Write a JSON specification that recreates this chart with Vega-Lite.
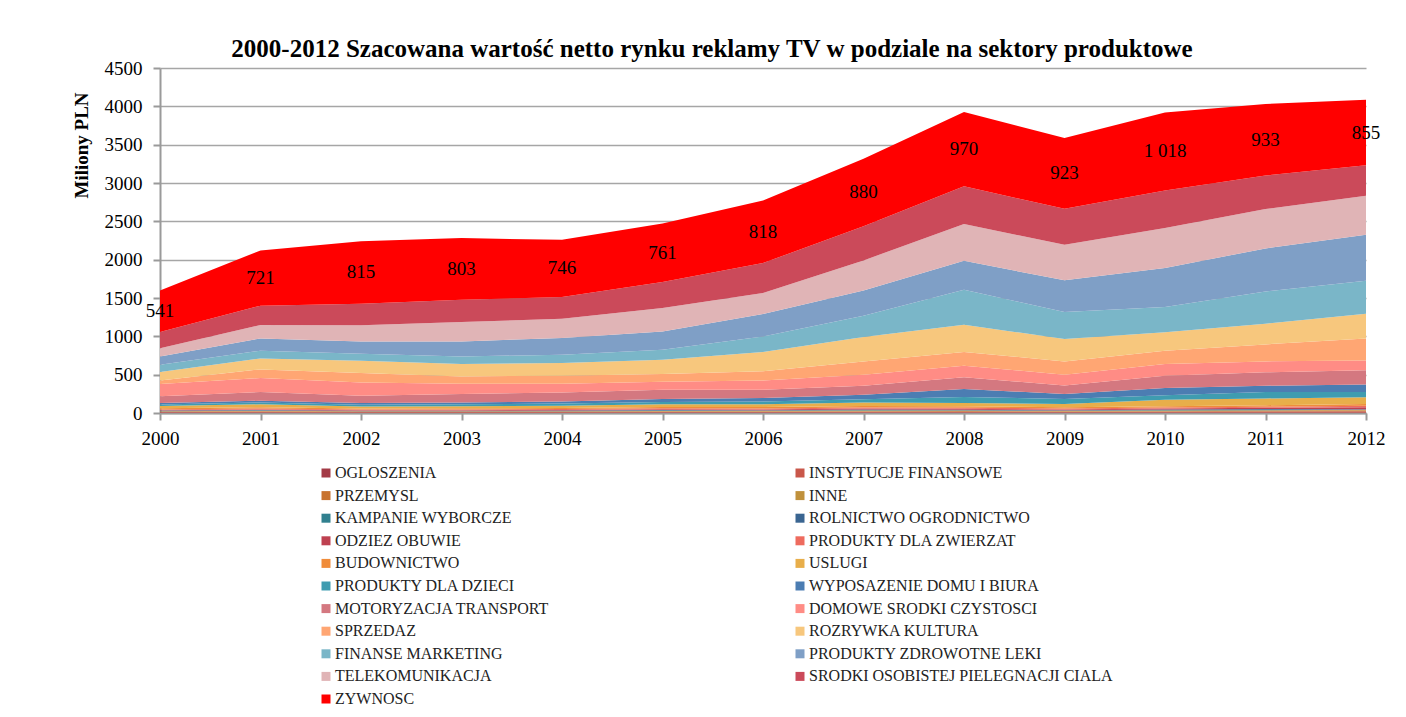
{
  "$schema": "https://vega.github.io/schema/vega-lite/v6.json",
  "width": 1206,
  "height": 345,
  "autosize": {"type": "none"},
  "padding": {"left": 160, "top": 68, "right": 40, "bottom": 304},
  "background": "white",
  "title": {
    "text": "2000-2012 Szacowana wartość netto rynku reklamy TV w podziale na sektory produktowe",
    "font": "Liberation Serif",
    "fontSize": 25,
    "fontWeight": "bold",
    "color": "black",
    "anchor": "middle",
    "dx": -51,
    "offset": -3
  },
  "config": {
    "view": {"stroke": null},
    "locale": {"number": {"decimal": ",", "thousands": " ", "grouping": [3], "currency": ["", " zł"]}},
    "axisX": {
      "grid": false,
      "domainColor": "#9a9a9a", "domainWidth": 2,
      "tickColor": "#9a9a9a", "tickWidth": 2, "tickSize": 7,
      "labelFont": "Liberation Serif", "labelFontSize": 19, "labelColor": "black",
      "labelPadding": 9, "labelFlush": false, "labelOverlap": false
    },
    "axisY": {
      "titleFont": "Liberation Serif", "titleFontSize": 19, "titleFontWeight": "bold", "titleColor": "black",
      "titleAngle": -90, "titleX": -79, "titleY": 77, "titleAlign": "center", "titleBaseline": "middle",
      "grid": true, "gridColor": "#a6a6a6", "gridWidth": 1.3,
      "domainColor": "#9a9a9a", "domainWidth": 2,
      "tickColor": "#9a9a9a", "tickWidth": 2, "tickSize": 7,
      "labelFont": "Liberation Serif", "labelFontSize": 19, "labelColor": "black",
      "labelPadding": 11, "labelOverlap": false, "labelFlush": false
    }
  },
  "datasets": {
    "rynek": [
      {"rok":2000,"nr":1,"sektor":"OGLOSZENIA","mln":5},{"rok":2000,"nr":2,"sektor":"INSTYTUCJE FINANSOWE","mln":8},{"rok":2000,"nr":3,"sektor":"PRZEMYSL","mln":6},{"rok":2000,"nr":4,"sektor":"INNE","mln":5},{"rok":2000,"nr":5,"sektor":"KAMPANIE WYBORCZE","mln":3},{"rok":2000,"nr":6,"sektor":"ROLNICTWO OGRODNICTWO","mln":4},{"rok":2000,"nr":7,"sektor":"ODZIEZ OBUWIE","mln":6},{"rok":2000,"nr":8,"sektor":"PRODUKTY DLA ZWIERZAT","mln":10},{"rok":2000,"nr":9,"sektor":"BUDOWNICTWO","mln":15},{"rok":2000,"nr":10,"sektor":"USLUGI","mln":28},{"rok":2000,"nr":11,"sektor":"PRODUKTY DLA DZIECI","mln":20},{"rok":2000,"nr":12,"sektor":"WYPOSAZENIE DOMU I BIURA","mln":20},{"rok":2000,"nr":13,"sektor":"MOTORYZACJA TRANSPORT","mln":87},{"rok":2000,"nr":14,"sektor":"DOMOWE SRODKI CZYSTOSCI","mln":161},{"rok":2000,"nr":15,"sektor":"SPRZEDAZ","mln":47},{"rok":2000,"nr":16,"sektor":"ROZRYWKA KULTURA","mln":110},{"rok":2000,"nr":17,"sektor":"FINANSE MARKETING","mln":95},{"rok":2000,"nr":18,"sektor":"PRODUKTY ZDROWOTNE LEKI","mln":108},{"rok":2000,"nr":19,"sektor":"TELEKOMUNIKACJA","mln":105},{"rok":2000,"nr":20,"sektor":"SRODKI OSOBISTEJ PIELEGNACJI CIALA","mln":213},{"rok":2000,"nr":21,"sektor":"ZYWNOSC","mln":541},
      {"rok":2001,"nr":1,"sektor":"OGLOSZENIA","mln":5},{"rok":2001,"nr":2,"sektor":"INSTYTUCJE FINANSOWE","mln":10},{"rok":2001,"nr":3,"sektor":"PRZEMYSL","mln":7},{"rok":2001,"nr":4,"sektor":"INNE","mln":6},{"rok":2001,"nr":5,"sektor":"KAMPANIE WYBORCZE","mln":5},{"rok":2001,"nr":6,"sektor":"ROLNICTWO OGRODNICTWO","mln":5},{"rok":2001,"nr":7,"sektor":"ODZIEZ OBUWIE","mln":8},{"rok":2001,"nr":8,"sektor":"PRODUKTY DLA ZWIERZAT","mln":12},{"rok":2001,"nr":9,"sektor":"BUDOWNICTWO","mln":18},{"rok":2001,"nr":10,"sektor":"USLUGI","mln":38},{"rok":2001,"nr":11,"sektor":"PRODUKTY DLA DZIECI","mln":24},{"rok":2001,"nr":12,"sektor":"WYPOSAZENIE DOMU I BIURA","mln":22},{"rok":2001,"nr":13,"sektor":"MOTORYZACJA TRANSPORT","mln":114},{"rok":2001,"nr":14,"sektor":"DOMOWE SRODKI CZYSTOSCI","mln":182},{"rok":2001,"nr":15,"sektor":"SPRZEDAZ","mln":113},{"rok":2001,"nr":16,"sektor":"ROZRYWKA KULTURA","mln":143},{"rok":2001,"nr":17,"sektor":"FINANSE MARKETING","mln":101},{"rok":2001,"nr":18,"sektor":"PRODUKTY ZDROWOTNE LEKI","mln":160},{"rok":2001,"nr":19,"sektor":"TELEKOMUNIKACJA","mln":175},{"rok":2001,"nr":20,"sektor":"SRODKI OSOBISTEJ PIELEGNACJI CIALA","mln":252},{"rok":2001,"nr":21,"sektor":"ZYWNOSC","mln":721},
      {"rok":2002,"nr":1,"sektor":"OGLOSZENIA","mln":4},{"rok":2002,"nr":2,"sektor":"INSTYTUCJE FINANSOWE","mln":8},{"rok":2002,"nr":3,"sektor":"PRZEMYSL","mln":6},{"rok":2002,"nr":4,"sektor":"INNE","mln":5},{"rok":2002,"nr":5,"sektor":"KAMPANIE WYBORCZE","mln":1},{"rok":2002,"nr":6,"sektor":"ROLNICTWO OGRODNICTWO","mln":5},{"rok":2002,"nr":7,"sektor":"ODZIEZ OBUWIE","mln":7},{"rok":2002,"nr":8,"sektor":"PRODUKTY DLA ZWIERZAT","mln":10},{"rok":2002,"nr":9,"sektor":"BUDOWNICTWO","mln":14},{"rok":2002,"nr":10,"sektor":"USLUGI","mln":26},{"rok":2002,"nr":11,"sektor":"PRODUKTY DLA DZIECI","mln":22},{"rok":2002,"nr":12,"sektor":"WYPOSAZENIE DOMU I BIURA","mln":22},{"rok":2002,"nr":13,"sektor":"MOTORYZACJA TRANSPORT","mln":96},{"rok":2002,"nr":14,"sektor":"DOMOWE SRODKI CZYSTOSCI","mln":173},{"rok":2002,"nr":15,"sektor":"SPRZEDAZ","mln":122},{"rok":2002,"nr":16,"sektor":"ROZRYWKA KULTURA","mln":161},{"rok":2002,"nr":17,"sektor":"FINANSE MARKETING","mln":91},{"rok":2002,"nr":18,"sektor":"PRODUKTY ZDROWOTNE LEKI","mln":161},{"rok":2002,"nr":19,"sektor":"TELEKOMUNIKACJA","mln":209},{"rok":2002,"nr":20,"sektor":"SRODKI OSOBISTEJ PIELEGNACJI CIALA","mln":283},{"rok":2002,"nr":21,"sektor":"ZYWNOSC","mln":815},
      {"rok":2003,"nr":1,"sektor":"OGLOSZENIA","mln":4},{"rok":2003,"nr":2,"sektor":"INSTYTUCJE FINANSOWE","mln":8},{"rok":2003,"nr":3,"sektor":"PRZEMYSL","mln":6},{"rok":2003,"nr":4,"sektor":"INNE","mln":5},{"rok":2003,"nr":5,"sektor":"KAMPANIE WYBORCZE","mln":1},{"rok":2003,"nr":6,"sektor":"ROLNICTWO OGRODNICTWO","mln":5},{"rok":2003,"nr":7,"sektor":"ODZIEZ OBUWIE","mln":8},{"rok":2003,"nr":8,"sektor":"PRODUKTY DLA ZWIERZAT","mln":10},{"rok":2003,"nr":9,"sektor":"BUDOWNICTWO","mln":14},{"rok":2003,"nr":10,"sektor":"USLUGI","mln":28},{"rok":2003,"nr":11,"sektor":"PRODUKTY DLA DZIECI","mln":25},{"rok":2003,"nr":12,"sektor":"WYPOSAZENIE DOMU I BIURA","mln":24},{"rok":2003,"nr":13,"sektor":"MOTORYZACJA TRANSPORT","mln":110},{"rok":2003,"nr":14,"sektor":"DOMOWE SRODKI CZYSTOSCI","mln":134},{"rok":2003,"nr":15,"sektor":"SPRZEDAZ","mln":95},{"rok":2003,"nr":16,"sektor":"ROZRYWKA KULTURA","mln":162},{"rok":2003,"nr":17,"sektor":"FINANSE MARKETING","mln":99},{"rok":2003,"nr":18,"sektor":"PRODUKTY ZDROWOTNE LEKI","mln":196},{"rok":2003,"nr":19,"sektor":"TELEKOMUNIKACJA","mln":253},{"rok":2003,"nr":20,"sektor":"SRODKI OSOBISTEJ PIELEGNACJI CIALA","mln":291},{"rok":2003,"nr":21,"sektor":"ZYWNOSC","mln":803},
      {"rok":2004,"nr":1,"sektor":"OGLOSZENIA","mln":4},{"rok":2004,"nr":2,"sektor":"INSTYTUCJE FINANSOWE","mln":8},{"rok":2004,"nr":3,"sektor":"PRZEMYSL","mln":6},{"rok":2004,"nr":4,"sektor":"INNE","mln":6},{"rok":2004,"nr":5,"sektor":"KAMPANIE WYBORCZE","mln":2},{"rok":2004,"nr":6,"sektor":"ROLNICTWO OGRODNICTWO","mln":5},{"rok":2004,"nr":7,"sektor":"ODZIEZ OBUWIE","mln":9},{"rok":2004,"nr":8,"sektor":"PRODUKTY DLA ZWIERZAT","mln":11},{"rok":2004,"nr":9,"sektor":"BUDOWNICTWO","mln":15},{"rok":2004,"nr":10,"sektor":"USLUGI","mln":30},{"rok":2004,"nr":11,"sektor":"PRODUKTY DLA DZIECI","mln":27},{"rok":2004,"nr":12,"sektor":"WYPOSAZENIE DOMU I BIURA","mln":28},{"rok":2004,"nr":13,"sektor":"MOTORYZACJA TRANSPORT","mln":118},{"rok":2004,"nr":14,"sektor":"DOMOWE SRODKI CZYSTOSCI","mln":113},{"rok":2004,"nr":15,"sektor":"SPRZEDAZ","mln":105},{"rok":2004,"nr":16,"sektor":"ROZRYWKA KULTURA","mln":165},{"rok":2004,"nr":17,"sektor":"FINANSE MARKETING","mln":108},{"rok":2004,"nr":18,"sektor":"PRODUKTY ZDROWOTNE LEKI","mln":218},{"rok":2004,"nr":19,"sektor":"TELEKOMUNIKACJA","mln":252},{"rok":2004,"nr":20,"sektor":"SRODKI OSOBISTEJ PIELEGNACJI CIALA","mln":283},{"rok":2004,"nr":21,"sektor":"ZYWNOSC","mln":746},
      {"rok":2005,"nr":1,"sektor":"OGLOSZENIA","mln":5},{"rok":2005,"nr":2,"sektor":"INSTYTUCJE FINANSOWE","mln":9},{"rok":2005,"nr":3,"sektor":"PRZEMYSL","mln":7},{"rok":2005,"nr":4,"sektor":"INNE","mln":6},{"rok":2005,"nr":5,"sektor":"KAMPANIE WYBORCZE","mln":6},{"rok":2005,"nr":6,"sektor":"ROLNICTWO OGRODNICTWO","mln":6},{"rok":2005,"nr":7,"sektor":"ODZIEZ OBUWIE","mln":10},{"rok":2005,"nr":8,"sektor":"PRODUKTY DLA ZWIERZAT","mln":12},{"rok":2005,"nr":9,"sektor":"BUDOWNICTWO","mln":17},{"rok":2005,"nr":10,"sektor":"USLUGI","mln":35},{"rok":2005,"nr":11,"sektor":"PRODUKTY DLA DZIECI","mln":32},{"rok":2005,"nr":12,"sektor":"WYPOSAZENIE DOMU I BIURA","mln":38},{"rok":2005,"nr":13,"sektor":"MOTORYZACJA TRANSPORT","mln":121},{"rok":2005,"nr":14,"sektor":"DOMOWE SRODKI CZYSTOSCI","mln":104},{"rok":2005,"nr":15,"sektor":"SPRZEDAZ","mln":101},{"rok":2005,"nr":16,"sektor":"ROZRYWKA KULTURA","mln":186},{"rok":2005,"nr":17,"sektor":"FINANSE MARKETING","mln":131},{"rok":2005,"nr":18,"sektor":"PRODUKTY ZDROWOTNE LEKI","mln":238},{"rok":2005,"nr":19,"sektor":"TELEKOMUNIKACJA","mln":305},{"rok":2005,"nr":20,"sektor":"SRODKI OSOBISTEJ PIELEGNACJI CIALA","mln":341},{"rok":2005,"nr":21,"sektor":"ZYWNOSC","mln":761},
      {"rok":2006,"nr":1,"sektor":"OGLOSZENIA","mln":5},{"rok":2006,"nr":2,"sektor":"INSTYTUCJE FINANSOWE","mln":9},{"rok":2006,"nr":3,"sektor":"PRZEMYSL","mln":7},{"rok":2006,"nr":4,"sektor":"INNE","mln":7},{"rok":2006,"nr":5,"sektor":"KAMPANIE WYBORCZE","mln":2},{"rok":2006,"nr":6,"sektor":"ROLNICTWO OGRODNICTWO","mln":6},{"rok":2006,"nr":7,"sektor":"ODZIEZ OBUWIE","mln":11},{"rok":2006,"nr":8,"sektor":"PRODUKTY DLA ZWIERZAT","mln":12},{"rok":2006,"nr":9,"sektor":"BUDOWNICTWO","mln":18},{"rok":2006,"nr":10,"sektor":"USLUGI","mln":38},{"rok":2006,"nr":11,"sektor":"PRODUKTY DLA DZIECI","mln":36},{"rok":2006,"nr":12,"sektor":"WYPOSAZENIE DOMU I BIURA","mln":45},{"rok":2006,"nr":13,"sektor":"MOTORYZACJA TRANSPORT","mln":108},{"rok":2006,"nr":14,"sektor":"DOMOWE SRODKI CZYSTOSCI","mln":121},{"rok":2006,"nr":15,"sektor":"SPRZEDAZ","mln":118},{"rok":2006,"nr":16,"sektor":"ROZRYWKA KULTURA","mln":253},{"rok":2006,"nr":17,"sektor":"FINANSE MARKETING","mln":203},{"rok":2006,"nr":18,"sektor":"PRODUKTY ZDROWOTNE LEKI","mln":292},{"rok":2006,"nr":19,"sektor":"TELEKOMUNIKACJA","mln":274},{"rok":2006,"nr":20,"sektor":"SRODKI OSOBISTEJ PIELEGNACJI CIALA","mln":390},{"rok":2006,"nr":21,"sektor":"ZYWNOSC","mln":818},
      {"rok":2007,"nr":1,"sektor":"OGLOSZENIA","mln":6},{"rok":2007,"nr":2,"sektor":"INSTYTUCJE FINANSOWE","mln":10},{"rok":2007,"nr":3,"sektor":"PRZEMYSL","mln":8},{"rok":2007,"nr":4,"sektor":"INNE","mln":7},{"rok":2007,"nr":5,"sektor":"KAMPANIE WYBORCZE","mln":8},{"rok":2007,"nr":6,"sektor":"ROLNICTWO OGRODNICTWO","mln":7},{"rok":2007,"nr":7,"sektor":"ODZIEZ OBUWIE","mln":12},{"rok":2007,"nr":8,"sektor":"PRODUKTY DLA ZWIERZAT","mln":14},{"rok":2007,"nr":9,"sektor":"BUDOWNICTWO","mln":20},{"rok":2007,"nr":10,"sektor":"USLUGI","mln":45},{"rok":2007,"nr":11,"sektor":"PRODUKTY DLA DZIECI","mln":42},{"rok":2007,"nr":12,"sektor":"WYPOSAZENIE DOMU I BIURA","mln":60},{"rok":2007,"nr":13,"sektor":"MOTORYZACJA TRANSPORT","mln":117},{"rok":2007,"nr":14,"sektor":"DOMOWE SRODKI CZYSTOSCI","mln":144},{"rok":2007,"nr":15,"sektor":"SPRZEDAZ","mln":173},{"rok":2007,"nr":16,"sektor":"ROZRYWKA KULTURA","mln":318},{"rok":2007,"nr":17,"sektor":"FINANSE MARKETING","mln":278},{"rok":2007,"nr":18,"sektor":"PRODUKTY ZDROWOTNE LEKI","mln":330},{"rok":2007,"nr":19,"sektor":"TELEKOMUNIKACJA","mln":391},{"rok":2007,"nr":20,"sektor":"SRODKI OSOBISTEJ PIELEGNACJI CIALA","mln":447},{"rok":2007,"nr":21,"sektor":"ZYWNOSC","mln":880},
      {"rok":2008,"nr":1,"sektor":"OGLOSZENIA","mln":6},{"rok":2008,"nr":2,"sektor":"INSTYTUCJE FINANSOWE","mln":10},{"rok":2008,"nr":3,"sektor":"PRZEMYSL","mln":9},{"rok":2008,"nr":4,"sektor":"INNE","mln":8},{"rok":2008,"nr":5,"sektor":"KAMPANIE WYBORCZE","mln":2},{"rok":2008,"nr":6,"sektor":"ROLNICTWO OGRODNICTWO","mln":8},{"rok":2008,"nr":7,"sektor":"ODZIEZ OBUWIE","mln":12},{"rok":2008,"nr":8,"sektor":"PRODUKTY DLA ZWIERZAT","mln":14},{"rok":2008,"nr":9,"sektor":"BUDOWNICTWO","mln":18},{"rok":2008,"nr":10,"sektor":"USLUGI","mln":45},{"rok":2008,"nr":11,"sektor":"PRODUKTY DLA DZIECI","mln":77},{"rok":2008,"nr":12,"sektor":"WYPOSAZENIE DOMU I BIURA","mln":104},{"rok":2008,"nr":13,"sektor":"MOTORYZACJA TRANSPORT","mln":152},{"rok":2008,"nr":14,"sektor":"DOMOWE SRODKI CZYSTOSCI","mln":152},{"rok":2008,"nr":15,"sektor":"SPRZEDAZ","mln":179},{"rok":2008,"nr":16,"sektor":"ROZRYWKA KULTURA","mln":356},{"rok":2008,"nr":17,"sektor":"FINANSE MARKETING","mln":456},{"rok":2008,"nr":18,"sektor":"PRODUKTY ZDROWOTNE LEKI","mln":378},{"rok":2008,"nr":19,"sektor":"TELEKOMUNIKACJA","mln":479},{"rok":2008,"nr":20,"sektor":"SRODKI OSOBISTEJ PIELEGNACJI CIALA","mln":491},{"rok":2008,"nr":21,"sektor":"ZYWNOSC","mln":970},
      {"rok":2009,"nr":1,"sektor":"OGLOSZENIA","mln":5},{"rok":2009,"nr":2,"sektor":"INSTYTUCJE FINANSOWE","mln":9},{"rok":2009,"nr":3,"sektor":"PRZEMYSL","mln":7},{"rok":2009,"nr":4,"sektor":"INNE","mln":7},{"rok":2009,"nr":5,"sektor":"KAMPANIE WYBORCZE","mln":1},{"rok":2009,"nr":6,"sektor":"ROLNICTWO OGRODNICTWO","mln":6},{"rok":2009,"nr":7,"sektor":"ODZIEZ OBUWIE","mln":11},{"rok":2009,"nr":8,"sektor":"PRODUKTY DLA ZWIERZAT","mln":13},{"rok":2009,"nr":9,"sektor":"BUDOWNICTWO","mln":16},{"rok":2009,"nr":10,"sektor":"USLUGI","mln":42},{"rok":2009,"nr":11,"sektor":"PRODUKTY DLA DZIECI","mln":66},{"rok":2009,"nr":12,"sektor":"WYPOSAZENIE DOMU I BIURA","mln":65},{"rok":2009,"nr":13,"sektor":"MOTORYZACJA TRANSPORT","mln":112},{"rok":2009,"nr":14,"sektor":"DOMOWE SRODKI CZYSTOSCI","mln":140},{"rok":2009,"nr":15,"sektor":"SPRZEDAZ","mln":173},{"rok":2009,"nr":16,"sektor":"ROZRYWKA KULTURA","mln":292},{"rok":2009,"nr":17,"sektor":"FINANSE MARKETING","mln":352},{"rok":2009,"nr":18,"sektor":"PRODUKTY ZDROWOTNE LEKI","mln":413},{"rok":2009,"nr":19,"sektor":"TELEKOMUNIKACJA","mln":465},{"rok":2009,"nr":20,"sektor":"SRODKI OSOBISTEJ PIELEGNACJI CIALA","mln":469},{"rok":2009,"nr":21,"sektor":"ZYWNOSC","mln":923},
      {"rok":2010,"nr":1,"sektor":"OGLOSZENIA","mln":6},{"rok":2010,"nr":2,"sektor":"INSTYTUCJE FINANSOWE","mln":10},{"rok":2010,"nr":3,"sektor":"PRZEMYSL","mln":8},{"rok":2010,"nr":4,"sektor":"INNE","mln":8},{"rok":2010,"nr":5,"sektor":"KAMPANIE WYBORCZE","mln":8},{"rok":2010,"nr":6,"sektor":"ROLNICTWO OGRODNICTWO","mln":7},{"rok":2010,"nr":7,"sektor":"ODZIEZ OBUWIE","mln":13},{"rok":2010,"nr":8,"sektor":"PRODUKTY DLA ZWIERZAT","mln":12},{"rok":2010,"nr":9,"sektor":"BUDOWNICTWO","mln":15},{"rok":2010,"nr":10,"sektor":"USLUGI","mln":86},{"rok":2010,"nr":11,"sektor":"PRODUKTY DLA DZIECI","mln":57},{"rok":2010,"nr":12,"sektor":"WYPOSAZENIE DOMU I BIURA","mln":96},{"rok":2010,"nr":13,"sektor":"MOTORYZACJA TRANSPORT","mln":161},{"rok":2010,"nr":14,"sektor":"DOMOWE SRODKI CZYSTOSCI","mln":152},{"rok":2010,"nr":15,"sektor":"SPRZEDAZ","mln":174},{"rok":2010,"nr":16,"sektor":"ROZRYWKA KULTURA","mln":239},{"rok":2010,"nr":17,"sektor":"FINANSE MARKETING","mln":331},{"rok":2010,"nr":18,"sektor":"PRODUKTY ZDROWOTNE LEKI","mln":508},{"rok":2010,"nr":19,"sektor":"TELEKOMUNIKACJA","mln":522},{"rok":2010,"nr":20,"sektor":"SRODKI OSOBISTEJ PIELEGNACJI CIALA","mln":490},{"rok":2010,"nr":21,"sektor":"ZYWNOSC","mln":1018},
      {"rok":2011,"nr":1,"sektor":"OGLOSZENIA","mln":7},{"rok":2011,"nr":2,"sektor":"INSTYTUCJE FINANSOWE","mln":12},{"rok":2011,"nr":3,"sektor":"PRZEMYSL","mln":9},{"rok":2011,"nr":4,"sektor":"INNE","mln":9},{"rok":2011,"nr":5,"sektor":"KAMPANIE WYBORCZE","mln":6},{"rok":2011,"nr":6,"sektor":"ROLNICTWO OGRODNICTWO","mln":8},{"rok":2011,"nr":7,"sektor":"ODZIEZ OBUWIE","mln":16},{"rok":2011,"nr":8,"sektor":"PRODUKTY DLA ZWIERZAT","mln":15},{"rok":2011,"nr":9,"sektor":"BUDOWNICTWO","mln":20},{"rok":2011,"nr":10,"sektor":"USLUGI","mln":88},{"rok":2011,"nr":11,"sektor":"PRODUKTY DLA DZIECI","mln":84},{"rok":2011,"nr":12,"sektor":"WYPOSAZENIE DOMU I BIURA","mln":82},{"rok":2011,"nr":13,"sektor":"MOTORYZACJA TRANSPORT","mln":174},{"rok":2011,"nr":14,"sektor":"DOMOWE SRODKI CZYSTOSCI","mln":143},{"rok":2011,"nr":15,"sektor":"SPRZEDAZ","mln":222},{"rok":2011,"nr":16,"sektor":"ROZRYWKA KULTURA","mln":270},{"rok":2011,"nr":17,"sektor":"FINANSE MARKETING","mln":421},{"rok":2011,"nr":18,"sektor":"PRODUKTY ZDROWOTNE LEKI","mln":561},{"rok":2011,"nr":19,"sektor":"TELEKOMUNIKACJA","mln":514},{"rok":2011,"nr":20,"sektor":"SRODKI OSOBISTEJ PIELEGNACJI CIALA","mln":436},{"rok":2011,"nr":21,"sektor":"ZYWNOSC","mln":933},
      {"rok":2012,"nr":1,"sektor":"OGLOSZENIA","mln":8},{"rok":2012,"nr":2,"sektor":"INSTYTUCJE FINANSOWE","mln":14},{"rok":2012,"nr":3,"sektor":"PRZEMYSL","mln":9},{"rok":2012,"nr":4,"sektor":"INNE","mln":10},{"rok":2012,"nr":5,"sektor":"KAMPANIE WYBORCZE","mln":1},{"rok":2012,"nr":6,"sektor":"ROLNICTWO OGRODNICTWO","mln":8},{"rok":2012,"nr":7,"sektor":"ODZIEZ OBUWIE","mln":25},{"rok":2012,"nr":8,"sektor":"PRODUKTY DLA ZWIERZAT","mln":20},{"rok":2012,"nr":9,"sektor":"BUDOWNICTWO","mln":22},{"rok":2012,"nr":10,"sektor":"USLUGI","mln":87},{"rok":2012,"nr":11,"sektor":"PRODUKTY DLA DZIECI","mln":70},{"rok":2012,"nr":12,"sektor":"WYPOSAZENIE DOMU I BIURA","mln":99},{"rok":2012,"nr":13,"sektor":"MOTORYZACJA TRANSPORT","mln":183},{"rok":2012,"nr":14,"sektor":"DOMOWE SRODKI CZYSTOSCI","mln":130},{"rok":2012,"nr":15,"sektor":"SPRZEDAZ","mln":287},{"rok":2012,"nr":16,"sektor":"ROZRYWKA KULTURA","mln":322},{"rok":2012,"nr":17,"sektor":"FINANSE MARKETING","mln":431},{"rok":2012,"nr":18,"sektor":"PRODUKTY ZDROWOTNE LEKI","mln":600},{"rok":2012,"nr":19,"sektor":"TELEKOMUNIKACJA","mln":508},{"rok":2012,"nr":20,"sektor":"SRODKI OSOBISTEJ PIELEGNACJI CIALA","mln":397},{"rok":2012,"nr":21,"sektor":"ZYWNOSC","mln":855}
    ]
  },
  "data": {"name": "rynek"},
  "layer": [
    {
      "mark": {"type": "area", "interpolate": "linear", "opacity": 1},
      "encoding": {
        "x": {
          "field": "rok", "type": "quantitative",
          "scale": {"domain": [2000, 2012], "nice": false, "zero": false},
          "axis": {"title": null, "format": "d", "values": [2000,2001,2002,2003,2004,2005,2006,2007,2008,2009,2010,2011,2012]}
        },
        "y": {
          "field": "mln", "type": "quantitative", "stack": "zero",
          "scale": {"domain": [0, 4500], "nice": false},
          "axis": {"title": "Miliony PLN", "format": "d", "values": [0,500,1000,1500,2000,2500,3000,3500,4000,4500]}
        },
        "color": {
          "field": "sektor", "type": "nominal",
          "scale": {
            "domain": ["OGLOSZENIA","INSTYTUCJE FINANSOWE","PRZEMYSL","INNE","KAMPANIE WYBORCZE","ROLNICTWO OGRODNICTWO","ODZIEZ OBUWIE","PRODUKTY DLA ZWIERZAT","BUDOWNICTWO","USLUGI","PRODUKTY DLA DZIECI","WYPOSAZENIE DOMU I BIURA","MOTORYZACJA TRANSPORT","DOMOWE SRODKI CZYSTOSCI","SPRZEDAZ","ROZRYWKA KULTURA","FINANSE MARKETING","PRODUKTY ZDROWOTNE LEKI","TELEKOMUNIKACJA","SRODKI OSOBISTEJ PIELEGNACJI CIALA","ZYWNOSC"],
            "range": ["#A33A46","#C9574A","#C8732F","#C0913C","#31808F","#3A6591","#BE4150","#EE6B5E","#F08C3A","#E8AE4A","#3F9CB0","#4C7DB2","#D47880","#FF8C85","#FFA673","#F7C77D","#7AB6C8","#7F9FC6","#E0B4B6","#CB4A5A","#FF0000"]
          },
          "legend": {
            "orient": "none", "legendX": 158, "legendY": 397,
            "direction": "horizontal",
            "columns": 2, "columnPadding": 242, "rowPadding": 6.6,
            "title": null, "symbolType": "square", "symbolSize": 81, "symbolStrokeWidth": 0,
            "labelFont": "Liberation Serif", "labelFontSize": 16, "labelColor": "#222222",
            "labelOffset": 1, "labelLimit": 400
          }
        },
        "order": {"field": "nr", "type": "quantitative", "sort": "ascending"}
      }
    },
    {
      "transform": [
        {"stack": "mln", "groupby": ["rok"], "sort": [{"field": "nr", "order": "ascending"}], "as": ["y0", "y1"]},
        {"filter": "datum.sektor === 'ZYWNOSC'"},
        {"fold": ["y0", "y1"], "as": ["granica", "poz"]},
        {"aggregate": [{"op": "mean", "field": "poz", "as": "srodek"}], "groupby": ["rok", "mln"]}
      ],
      "mark": {"type": "text", "font": "Liberation Serif", "fontSize": 19, "color": "black", "baseline": "middle", "align": "center"},
      "encoding": {
        "x": {"field": "rok", "type": "quantitative",
          "axis": {"title": null, "format": "d", "values": [2000,2001,2002,2003,2004,2005,2006,2007,2008,2009,2010,2011,2012]}},
        "y": {"field": "srodek", "type": "quantitative",
          "axis": {"title": "Miliony PLN", "format": "d", "values": [0,500,1000,1500,2000,2500,3000,3500,4000,4500]}},
        "text": {"field": "mln", "type": "quantitative", "format": ",d"}
      }
    }
  ]
}
